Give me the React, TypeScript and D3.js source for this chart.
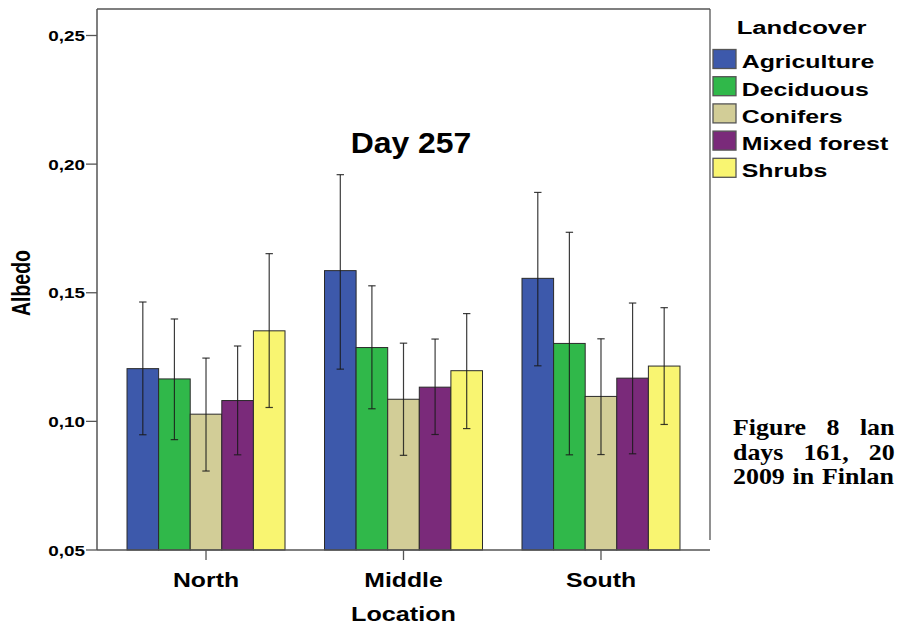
import React from "react";
import * as d3 from "d3";

const locations = ["North", "Middle", "South"];
const landcovers = ["Agriculture", "Deciduous", "Conifers", "Mixed forest", "Shrubs"];
const colors = ["#3D59AB", "#30B84A", "#D2CD97", "#7A2A7A", "#F9F571"];

const northMean = [0.1205, 0.1165, 0.1028, 0.1081, 0.1352];
const northLow = [0.0948, 0.0929, 0.0807, 0.087, 0.1054];
const northHigh = [0.1464, 0.1398, 0.1246, 0.1293, 0.1652];
const middleMean = [0.1586, 0.1287, 0.1086, 0.1133, 0.1197];
const middleLow = [0.1203, 0.1049, 0.0868, 0.0949, 0.0972];
const middleHigh = [0.1959, 0.1527, 0.1304, 0.132, 0.1419];
const southMean = [0.1556, 0.1303, 0.1097, 0.1168, 0.1215];
const southLow = [0.1216, 0.087, 0.0871, 0.0874, 0.0988];
const southHigh = [0.189, 0.1735, 0.1321, 0.146, 0.1442];

const yTicks = [0.05, 0.1, 0.15, 0.2, 0.25];
const title = "Day 257";
const xTitle = "Location";
const yTitle = "Albedo";
const legendTitle = "Landcover";
const captionLines = ["Figure 8 lan", "days 161, 20", "2009 in Finlan"];

const W = 897;
const H = 626;
const left = 97;
const right = 710;
const top = 9;
const bottom = 550;

const SANS = "'Liberation Sans', Arial, sans-serif";
const SERIF = "'Liberation Serif', 'Times New Roman', serif";

function STxt({ x, y, sx = 1, size, anchor = "start", children, rotate = 0, family = SANS, ws = 0 }: any) {
  const t = rotate
    ? `translate(${x},${y}) scale(${sx},1) rotate(${rotate})`
    : `translate(${x},${y}) scale(${sx},1)`;
  return (
    <text
      transform={t}
      textAnchor={anchor}
      fontFamily={family}
      fontWeight="bold"
      fontSize={size}
      wordSpacing={ws}
      fill="#000"
    >
      {children}
    </text>
  );
}

export default function App() {
  const groups = [
    { loc: locations[0], mean: northMean, low: northLow, high: northHigh },
    { loc: locations[1], mean: middleMean, low: middleLow, high: middleHigh },
    { loc: locations[2], mean: southMean, low: southLow, high: southHigh },
  ];
  const y = d3.scaleLinear().domain([0.05, 0.2603]).range([bottom, top]);
  const x0 = d3
    .scaleBand<string>()
    .domain(locations)
    .range([left, right])
    .paddingInner(0.2)
    .paddingOuter(0.152);
  const x1 = d3.scaleBand<string>().domain(landcovers).range([0, x0.bandwidth()]);
  const cap = 3.7;
  const fmt = (v: number) => v.toFixed(2).replace(".", ",");

  return (
    <svg
      width={W}
      height={H}
      style={{ position: "absolute", left: 0, top: 0, background: "#fff" }}
    >
      <rect x={0} y={0} width={W} height={H} fill="#fff" />
      {/* bars */}
      {groups.map((g) => (
        <g key={g.loc} transform={`translate(${x0(g.loc)},0)`}>
          {landcovers.map((lc, i) => (
            <rect
              key={lc}
              x={x1(lc)!}
              y={y(g.mean[i])}
              width={x1.bandwidth()}
              height={bottom - y(g.mean[i])}
              fill={colors[i]}
              stroke="#2a2a2a"
              strokeWidth={1}
            />
          ))}
          {landcovers.map((lc, i) => {
            const cx = x1(lc)! + x1.bandwidth() / 2;
            return (
              <g key={lc + "e"} stroke="#1a1a1a" strokeWidth={1.2} strokeOpacity={0.85}>
                <line x1={cx} x2={cx} y1={y(g.high[i])} y2={y(g.low[i])} />
                <line x1={cx - cap} x2={cx + cap} y1={y(g.high[i])} y2={y(g.high[i])} />
                <line x1={cx - cap} x2={cx + cap} y1={y(g.low[i])} y2={y(g.low[i])} />
              </g>
            );
          })}
        </g>
      ))}
      {/* frame */}
      <line x1={left} x2={right} y1={top} y2={top} stroke="#555" strokeWidth={1.3} />
      <line x1={right} x2={right} y1={top} y2={540} stroke="#555" strokeWidth={1.3} />
      <line x1={left} x2={left} y1={top} y2={bottom} stroke="#555" strokeWidth={1.5} />
      <line x1={left} x2={right} y1={bottom} y2={bottom} stroke="#555" strokeWidth={1.5} />
      {/* y ticks */}
      {yTicks.map((t) => (
        <g key={t}>
          <line x1={left - 11} x2={left} y1={y(t)} y2={y(t)} stroke="#555" strokeWidth={1.3} />
          <STxt x={85} y={y(t) + 5.5} sx={1.22} size={15.5} anchor="end">
            {fmt(t)}
          </STxt>
        </g>
      ))}
      {/* x ticks */}
      {locations.map((l) => {
        const cx = x0(l)! + x0.bandwidth() / 2;
        return (
          <g key={l}>
            <line x1={cx} x2={cx} y1={bottom} y2={bottom + 10} stroke="#555" strokeWidth={1.3} />
            <STxt x={cx} y={586.7} sx={1.24} size={20} anchor="middle">
              {l}
            </STxt>
          </g>
        );
      })}
      <STxt x={(left + right) / 2} y={621} sx={1.26} size={20} anchor="middle">
        {xTitle}
      </STxt>
      <STxt x={30} y={283} sx={1.3} size={19.5} anchor="middle" rotate={-90}>
        {yTitle}
      </STxt>
      <STxt x={411} y={153} sx={1.1} size={29} anchor="middle">
        {title}
      </STxt>
      {/* legend */}
      <STxt x={736.7} y={34.3} sx={1.35} size={19}>
        {legendTitle}
      </STxt>
      {landcovers.map((lc, i) => (
        <g key={lc}>
          <rect
            x={713}
            y={49.5 + i * 27.2}
            width={23}
            height={19}
            fill={colors[i]}
            stroke="#555"
            strokeWidth={1.3}
          />
          <STxt x={741.7} y={68.3 + i * 27.2} sx={1.31} size={19}>
            {lc}
          </STxt>
        </g>
      ))}
      {/* caption */}
      {captionLines.map((line, i) => (
        <STxt
          key={i}
          x={733}
          y={435 + i * 24.5}
          sx={1.08}
          size={24}
          family={SERIF}
          ws={[13, 12.5, 1.2][i]}
        >
          {line}
        </STxt>
      ))}
    </svg>
  );
}
